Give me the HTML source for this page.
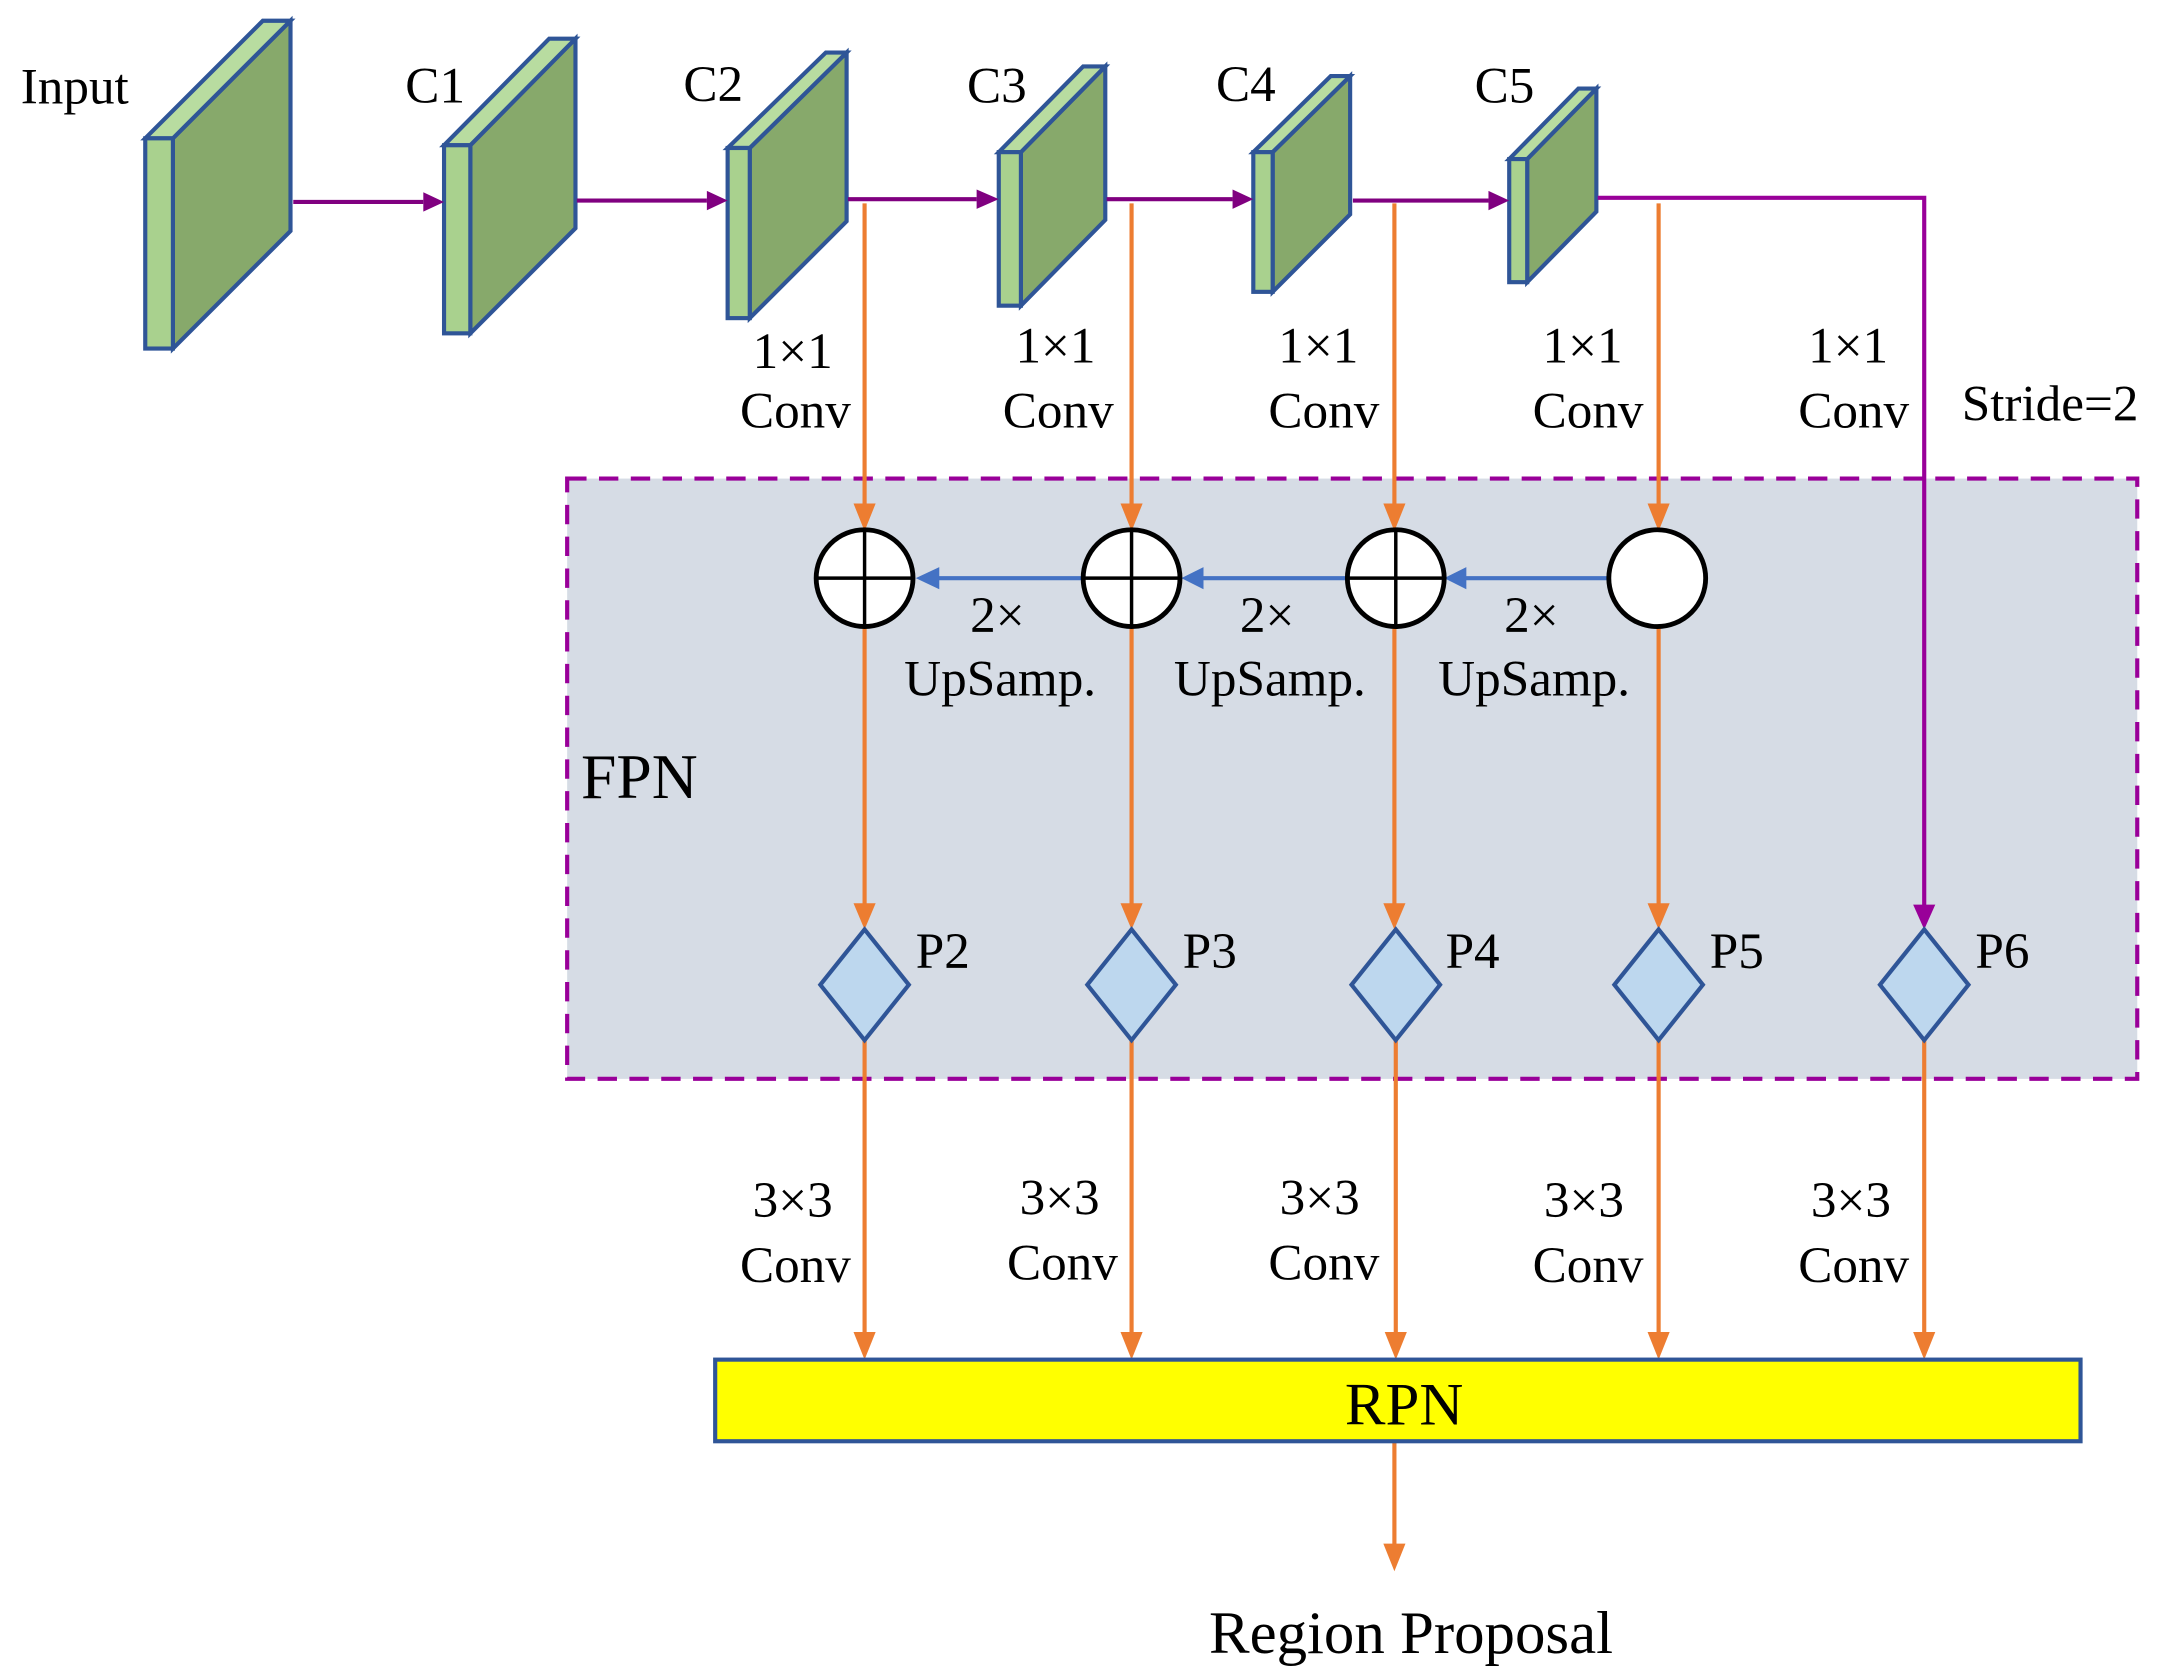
<!DOCTYPE html>
<html><head><meta charset="utf-8"><style>
html,body{margin:0;padding:0;background:#fff;}
svg{display:block;}
text{font-family:"Liberation Serif",serif;fill:#000;}
</style></head><body>
<svg width="2158" height="1675" viewBox="0 0 1560 1211" preserveAspectRatio="none" xmlns="http://www.w3.org/2000/svg">
<rect x="410" y="346" width="1135" height="434" fill="#d6dce5" stroke="#990099" stroke-width="3" stroke-dasharray="14,9"/>

<g stroke="#2f5597" stroke-width="3" stroke-linejoin="miter">
<polygon points="125,100 210,15 210,167 125,252" fill="#87a96b"/>
<polygon points="105,100 190,15 210,15 125,100" fill="#b8dca0"/>
<rect x="105" y="100" width="20" height="152" fill="#a9d18e"/>
<polygon points="340,105 416,28 416,165 340,241" fill="#87a96b"/>
<polygon points="321,105 397,28 416,28 340,105" fill="#b8dca0"/>
<rect x="321" y="105" width="19" height="136" fill="#a9d18e"/>
<polygon points="542,107 612,38 612,160 542,230" fill="#87a96b"/>
<polygon points="526,107 597,38 612,38 542,107" fill="#b8dca0"/>
<rect x="526" y="107" width="16" height="123" fill="#a9d18e"/>
<polygon points="738,110 799,48 799,159 738,221" fill="#87a96b"/>
<polygon points="722,110 783,48 799,48 738,110" fill="#b8dca0"/>
<rect x="722" y="110" width="16" height="111" fill="#a9d18e"/>
<polygon points="920,110 976,55 976,155 920,211" fill="#87a96b"/>
<polygon points="906,110 962,55 976,55 920,110" fill="#b8dca0"/>
<rect x="906" y="110" width="14" height="101" fill="#a9d18e"/>
<polygon points="1104,115 1154,64 1154,153 1104,204" fill="#87a96b"/>
<polygon points="1091,115 1141,64 1154,64 1104,115" fill="#b8dca0"/>
<rect x="1091" y="115" width="13" height="89" fill="#a9d18e"/>
</g>

<g stroke="#800080" stroke-width="3" fill="none">
<line x1="212" y1="146" x2="306" y2="146"/>
<line x1="417" y1="145" x2="511" y2="145"/>
<line x1="613" y1="144" x2="706" y2="144"/>
<line x1="800" y1="144" x2="891" y2="144"/>
<line x1="978" y1="145" x2="1076" y2="145"/>
</g>
<g fill="#800080">
<polygon points="306,139 321,146 306,153"/>
<polygon points="511,138 526,145 511,152"/>
<polygon points="706,137 722,144 706,151"/>
<polygon points="891,137 906,144 891,151"/>
<polygon points="1076,138 1091,145 1076,152"/>
</g>
<polyline points="1155,143 1391,143 1391,656" stroke="#990099" stroke-width="3" fill="none"/>
<polygon points="1383,654 1399,654 1391,672" fill="#990099"/>

<g stroke="#ed7d31" stroke-width="3" fill="none">
<line x1="625" y1="147" x2="625" y2="368"/>
<line x1="818" y1="147" x2="818" y2="368"/>
<line x1="1008" y1="147" x2="1008" y2="368"/>
<line x1="1199" y1="147" x2="1199" y2="368"/>
<line x1="625" y1="453" x2="625" y2="656"/>
<line x1="818" y1="453" x2="818" y2="656"/>
<line x1="1008" y1="453" x2="1008" y2="656"/>
<line x1="1199" y1="453" x2="1199" y2="656"/>
<line x1="625" y1="752" x2="625" y2="966"/>
<line x1="818" y1="752" x2="818" y2="966"/>
<line x1="1009" y1="752" x2="1009" y2="966"/>
<line x1="1199" y1="752" x2="1199" y2="966"/>
<line x1="1391" y1="752" x2="1391" y2="966"/>
<line x1="1008" y1="1042" x2="1008" y2="1118"/>
</g>
<g fill="#ed7d31">
<polygon points="617,364 633,364 625,384"/>
<polygon points="810,364 826,364 818,384"/>
<polygon points="1000,364 1016,364 1008,384"/>
<polygon points="1191,364 1207,364 1199,384"/>
<polygon points="617,653 633,653 625,672"/>
<polygon points="810,653 826,653 818,672"/>
<polygon points="1000,653 1016,653 1008,672"/>
<polygon points="1191,653 1207,653 1199,672"/>
<polygon points="617,963 633,963 625,983"/>
<polygon points="810,963 826,963 818,983"/>
<polygon points="1001,963 1017,963 1009,983"/>
<polygon points="1191,963 1207,963 1199,983"/>
<polygon points="1383,963 1399,963 1391,983"/>
<polygon points="1000,1116 1016,1116 1008,1136"/>
</g>

<g stroke="#4472c4" stroke-width="3">
<line x1="1163" y1="418" x2="1058" y2="418"/>
<line x1="973" y1="418" x2="868" y2="418"/>
<line x1="782" y1="418" x2="677" y2="418"/>
</g>
<g fill="#4472c4">
<polygon points="1060,410 1060,426 1044,418"/>
<polygon points="870,410 870,426 854,418"/>
<polygon points="679,410 679,426 662,418"/>
</g>

<g stroke="#000" stroke-width="3.5" fill="#fff">
<ellipse cx="625" cy="418" rx="35" ry="35"/>
<ellipse cx="818" cy="418" rx="35" ry="35"/>
<ellipse cx="1009" cy="418" rx="35" ry="35"/>
<ellipse cx="1198" cy="418" rx="35" ry="35"/>
</g>
<g stroke="#000" stroke-width="2.5">
<line x1="625" y1="383" x2="625" y2="453"/><line x1="590" y1="418" x2="660" y2="418"/>
<line x1="818" y1="383" x2="818" y2="453"/><line x1="783" y1="418" x2="853" y2="418"/>
<line x1="1009" y1="383" x2="1009" y2="453"/><line x1="974" y1="418" x2="1044" y2="418"/>
</g>

<g stroke="#2f5597" stroke-width="3" fill="#bdd7ee">
<polygon points="625,672 657,712 625,752 593,712"/>
<polygon points="818,672 850,712 818,752 786,712"/>
<polygon points="1009,672 1041,712 1009,752 977,712"/>
<polygon points="1199,672 1231,712 1199,752 1167,712"/>
<polygon points="1391,672 1423,712 1391,752 1359,712"/>
</g>

<rect x="517" y="983" width="987" height="59" fill="#ffff00" stroke="#2f5597" stroke-width="3"/>
<text x="1015" y="1030" font-size="44" text-anchor="middle">RPN</text>

<g font-size="37">
<text x="15" y="75">Input</text>
<text x="293" y="74">C1</text>
<text x="494" y="73">C2</text>
<text x="699" y="74">C3</text>
<text x="879" y="73">C4</text>
<text x="1066" y="74">C5</text>
</g>
<g font-size="37" text-anchor="middle">
<text x="573" y="266">1×1</text><text x="575" y="309">Conv</text>
<text x="763" y="262">1×1</text><text x="765" y="309">Conv</text>
<text x="953" y="262">1×1</text><text x="957" y="309">Conv</text>
<text x="1144" y="262">1×1</text><text x="1148" y="309">Conv</text>
<text x="1336" y="262">1×1</text><text x="1340" y="309">Conv</text>
<text x="1482" y="304">Stride=2</text>
<text x="721" y="457">2×</text><text x="723" y="503">UpSamp.</text>
<text x="916" y="457">2×</text><text x="918" y="503">UpSamp.</text>
<text x="1107" y="457">2×</text><text x="1109" y="503">UpSamp.</text>
<text x="573" y="880">3×3</text><text x="575" y="927">Conv</text>
<text x="766" y="878">3×3</text><text x="768" y="925">Conv</text>
<text x="954" y="878">3×3</text><text x="957" y="925">Conv</text>
<text x="1145" y="880">3×3</text><text x="1148" y="927">Conv</text>
<text x="1338" y="880">3×3</text><text x="1340" y="927">Conv</text>
</g>
<text x="420" y="577" font-size="46">FPN</text>
<g font-size="37">
<text x="662" y="700">P2</text>
<text x="855" y="700">P3</text>
<text x="1045" y="700">P4</text>
<text x="1236" y="700">P5</text>
<text x="1428" y="700">P6</text>
</g>
<text x="1020" y="1195" font-size="44" text-anchor="middle">Region Proposal</text>
</svg>
</body></html>
